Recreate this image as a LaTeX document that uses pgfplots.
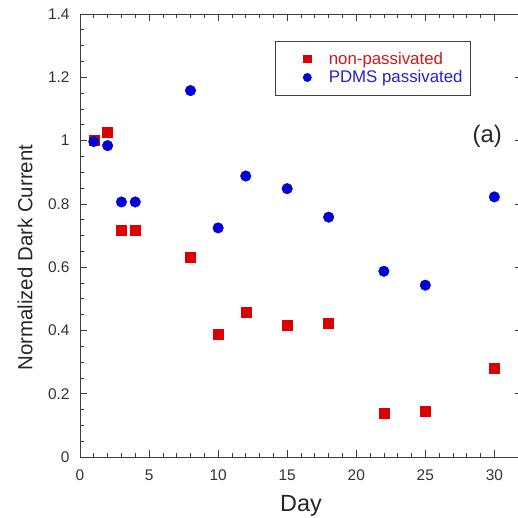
\documentclass[border=0pt]{standalone}
\usepackage{pgfplots}
\pgfplotsset{compat=1.18}
\usepackage{fontspec}
\setmainfont{Liberation Sans}
\definecolor{mred}{RGB}{220,0,0}
\definecolor{mblue}{RGB}{0,0,215}
\definecolor{lred}{RGB}{205,25,25}
\definecolor{lblue}{RGB}{35,35,205}
\definecolor{axgray}{RGB}{60,60,60}
\pgfplotsset{mylegimg/.style={legend image code/.code={\path[draw=none,fill=none] (0bp,-3bp) rectangle (46bp,3bp); \draw[##1] plot coordinates {(26.5bp,0bp)};}}}
\begin{document}
\begin{tikzpicture}
\path[use as bounding box] (-80bp,-61bp) rectangle (438bp,457bp);
\begin{axis}[
  at={(0,0)}, anchor=south west,
  scale only axis, width=442bp, height=443bp,
  xmin=0, xmax=32, ymin=0, ymax=1.4,
  xtick={0,5,10,15,20,25,30},
  ytick={0,0.2,0.4,0.6,0.8,1,1.2,1.4},
  yticklabels={0,0.2,0.4,0.6,0.8,1,1.2,1.4},
  minor x tick num=4, minor y tick num=3,
  tick align=inside, major tick length=7bp, minor tick length=4bp,
  axis line style={axgray, line width=0.8bp},
  every tick/.style={axgray, line width=0.7bp},
  /pgf/number format/assume math mode=true,
  ticklabel style={font=\fontsize{15.5}{18}\selectfont, text=black!80},
  xticklabel style={yshift=-9bp},
  yticklabel style={xshift=-7bp},
  xlabel={Day}, ylabel={Normalized Dark Current},
  xlabel style={font=\fontsize{23.5}{28}\selectfont, text=black!85, at={(axis description cs:0.5,0)}, anchor=base, yshift=-54bp},
  ylabel style={font=\fontsize{20.5}{24}\selectfont, text=black!85, at={(axis description cs:-0.124,0.45)}, anchor=center},
  legend style={at={(axis description cs:0.441,0.94)}, anchor=north west,
    draw=black!75, line width=0.8bp, font=\fontsize{16.9}{19}\selectfont,
    inner xsep=5.5bp, inner ysep=9bp, row sep=1bp,
    /tikz/every even column/.append style={column sep=0bp}},
  legend cell align=left,
  clip=false,
]
\addplot[only marks, mark=square*, mark size=5bp, color=mred, mylegimg,
  legend image post style={mark size=3.6bp}] coordinates {
  (1,1.0) (2,1.025) (3,0.716) (4,0.716) (8,0.63) (10,0.387) (12,0.459)
  (15,0.416) (18,0.424) (22,0.140) (25,0.144) (30,0.280)
};
\addlegendentry{\textcolor{lred}{non-passivated}}
\addplot[only marks, mark=*, mark size=5.3bp, color=mblue, mylegimg,
  legend image post style={mark size=4bp}] coordinates {
  (1,0.997) (2,0.984) (3,0.806) (4,0.806) (8,1.158) (10,0.724) (12,0.888)
  (15,0.848) (18,0.758) (22,0.587) (25,0.543) (30,0.822)
};
\addlegendentry{\textcolor{lblue}{PDMS passivated}}
\node[anchor=east, font=\fontsize{24}{28}\selectfont, text=black!85] at (axis cs:30.8,1.012) {(a)};
\end{axis}
\end{tikzpicture}
\end{document}
